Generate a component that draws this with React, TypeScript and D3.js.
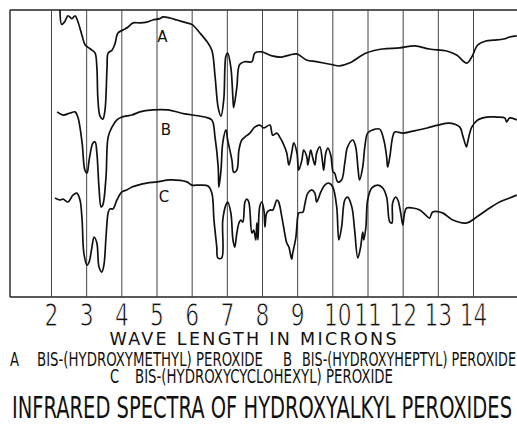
import React from 'react';
import * as d3 from 'd3';

// wavelength (microns) vs. trace height (0 = chart bottom, 100 = chart top)
const spectrumA: [number, number][] = [
  [2.24, 100], [2.29, 95], [2.38, 96], [2.47, 98], [2.58, 97], [2.67, 98], [2.75, 96],
  [2.87, 91], [2.95, 88], [3.04, 87], [3.15, 86], [3.24, 85], [3.29, 80], [3.32, 69],
  [3.38, 63], [3.46, 62], [3.52, 65], [3.58, 80], [3.61, 85], [3.72, 86], [3.8, 88],
  [3.89, 92], [4.03, 93], [4.17, 94], [4.32, 95.5], [4.51, 95.5], [4.71, 95.8], [4.88, 96.5],
  [5.08, 97], [5.17, 97.6], [5.37, 97.2], [5.57, 96.5], [5.85, 95.5], [5.99, 95], [6.22, 92],
  [6.42, 89], [6.56, 86], [6.65, 77], [6.74, 66], [6.82, 63], [6.9, 69], [6.96, 84],
  [7.01, 85], [7.1, 80], [7.16, 69], [7.18, 66], [7.27, 73], [7.35, 81], [7.5, 82],
  [7.7, 82], [7.78, 85], [7.98, 85.4], [8.27, 84], [8.54, 83.6], [8.77, 84.3], [8.97, 84.7],
  [9.25, 82.6], [9.53, 82], [9.96, 81], [10.19, 80.5], [10.47, 81.5], [10.95, 85], [11.41, 86.4],
  [11.9, 86.8], [12.33, 87.5], [12.75, 86.4], [13.24, 85.7], [13.52, 84.3], [13.81, 81.5],
  [13.95, 83.6], [14.12, 87.8], [14.35, 89.2], [14.57, 89.5], [14.86, 89.9], [15.03, 90.6], [15.23, 91],
];

const spectrumB: [number, number][] = [
  [2.16, 64.5], [2.33, 63.4], [2.53, 64.1], [2.67, 64.5], [2.75, 62.7], [2.87, 53.7], [2.95, 44.2],
  [3.01, 43.2], [3.07, 47.7], [3.18, 53.7], [3.24, 54], [3.29, 50.2], [3.35, 38.3], [3.41, 31.4],
  [3.46, 32.1], [3.55, 41.8], [3.61, 55.7], [3.72, 59.2], [3.86, 61.7], [4.0, 62.7], [4.14, 63.1],
  [4.29, 63.4], [4.51, 64.5], [4.88, 65.2], [5.3, 65.2], [5.79, 63.8], [6.36, 62.7], [6.56, 61.7],
  [6.65, 55.7], [6.74, 45.3], [6.76, 38.3], [6.82, 44.2], [6.87, 53.7], [6.96, 58.2], [7.01, 54.7],
  [7.13, 47.7], [7.18, 43.5], [7.27, 44.2], [7.33, 51.2], [7.41, 54.7], [7.5, 55.7], [7.64, 57.1],
  [7.78, 59.2], [7.92, 59.9], [8.04, 58.9], [8.21, 59.9], [8.29, 56.4], [8.41, 57.1], [8.49, 55.7],
  [8.58, 53.7], [8.69, 50.2], [8.75, 46], [8.83, 50.2], [8.89, 53.7], [8.98, 50.2], [9.03, 44.2],
  [9.12, 47.7], [9.17, 51.2], [9.26, 48.8], [9.29, 46], [9.37, 51.2], [9.43, 48.4], [9.49, 46],
  [9.54, 50.2], [9.63, 52.3], [9.71, 46.7], [9.74, 44.2], [9.8, 50.2], [9.86, 51.9], [9.94, 49.5],
  [10.01, 43.5], [10.05, 43.2], [10.14, 40.1], [10.25, 40.8], [10.34, 46.7], [10.42, 52.3],
  [10.57, 54.7], [10.65, 52.3], [10.72, 44.2], [10.76, 40.8], [10.85, 45.3], [10.91, 52.3],
  [10.99, 57.1], [11.13, 58.2], [11.33, 58.5], [11.45, 54.7], [11.53, 48.8], [11.56, 45.3],
  [11.62, 48.8], [11.7, 55.7], [11.76, 57.5], [11.99, 57.1], [12.28, 57.8], [12.68, 58.9],
  [12.99, 59.9], [13.32, 60.6], [13.61, 59.2], [13.69, 56.4], [13.8, 52.3], [13.83, 53.7],
  [13.95, 59.2], [14.12, 61.7], [14.38, 62.7], [14.66, 62.7], [14.89, 62.4], [14.94, 61],
  [15.03, 62.4], [15.23, 61.7],
];

const spectrumC: [number, number][] = [
  [2.1, 34.5], [2.24, 33.8], [2.33, 34.1], [2.47, 33.1], [2.61, 35.5], [2.72, 36.2], [2.81, 33.8],
  [2.87, 26.8], [2.92, 15.3], [3.01, 11.1], [3.07, 12.2], [3.15, 17.4], [3.21, 20.9], [3.29, 18.8],
  [3.35, 10.5], [3.43, 8.7], [3.49, 11.1], [3.55, 20.9], [3.61, 29.3], [3.66, 30.7], [3.75, 30.7],
  [3.86, 33.8], [4.0, 36.6], [4.14, 37.3], [4.29, 38.3], [4.46, 39], [4.71, 39.7], [5.0, 40.1],
  [5.37, 40.8], [5.85, 40.1], [5.99, 39], [6.22, 39], [6.45, 38.7], [6.56, 36.2], [6.62, 26.8],
  [6.7, 17.4], [6.73, 13.6], [6.84, 13.6], [6.87, 26.8], [6.96, 32.1], [7.01, 33.1], [7.1, 29.3],
  [7.16, 19.9], [7.21, 17.4], [7.27, 22.3], [7.33, 25.8], [7.38, 26.8], [7.44, 26.1], [7.5, 33.1],
  [7.55, 34.1], [7.61, 33.1], [7.7, 22.3], [7.75, 23.3], [7.81, 19.9], [7.84, 25.8], [7.87, 19.9],
  [7.92, 31.4], [7.98, 33.1], [8.04, 30.3], [8.07, 24.4], [8.12, 29.3], [8.21, 30.3], [8.29, 30.3],
  [8.41, 33.8], [8.46, 33.1], [8.55, 27.9], [8.63, 22.3], [8.69, 18.8], [8.75, 17.4], [8.83, 13.2],
  [8.86, 15.3], [8.95, 20.9], [9.0, 27.9], [9.03, 29.3], [9.15, 29.6], [9.2, 32.1], [9.29, 36.2],
  [9.4, 37.3], [9.49, 36.2], [9.54, 33.1], [9.66, 36.6], [9.77, 39], [9.89, 39.7], [10.0, 38.3],
  [10.11, 31.4], [10.17, 19.9], [10.25, 24.4], [10.34, 33.8], [10.42, 34.8], [10.54, 31.4],
  [10.62, 23.3], [10.71, 13.6], [10.79, 17.4], [10.85, 22.6], [10.88, 19.9], [10.94, 24.4],
  [10.99, 33.8], [11.11, 38], [11.28, 39], [11.42, 38], [11.53, 34.8], [11.62, 26.1], [11.68, 25.8],
  [11.7, 32.8], [11.79, 34.8], [11.85, 33.8], [11.93, 29.3], [11.99, 25.1], [12.04, 29.3],
  [12.1, 31], [12.27, 31], [12.47, 30.3], [12.67, 28.2], [12.75, 27.5], [12.84, 29.6], [13.12, 29.3],
  [13.41, 26.8], [13.81, 25.8], [14.09, 27.9], [14.46, 31], [14.74, 33.1], [15.03, 34.5], [15.23, 35.5],
];

const wavelengths = [2, 3, 4, 5, 6, 7, 8, 9, 10, 11, 12, 13, 14];

// curve letter: position on the chart (micron, height)
const curveLabels: { text: string; at: [number, number] }[] = [
  { text: 'A', at: [5.15, 89] },
  { text: 'B', at: [5.25, 56.5] },
  { text: 'C', at: [5.2, 33] },
];

const xTitle = 'WAVE LENGTH IN MICRONS';
const legendA = ['A', 'BIS-(HYDROXYMETHYL) PEROXIDE'];
const legendB = ['B', 'BIS-(HYDROXYHEPTYL) PEROXIDE'];
const legendC = ['C', 'BIS-(HYDROXYCYCLOHEXYL) PEROXIDE'];
const chartTitle = 'INFRARED SPECTRA OF HYDROXYALKYL PEROXIDES';

const W = 517;
const H = 425;
const left = 10;
const top = 10;
const bottom = 297;

const font = "'DejaVu Sans', sans-serif";
// thin the big digits a little, the original is pen lettering
const thin = { stroke: '#fff', strokeWidth: 0.6, paintOrder: 'fill' } as const;

// narrow lettering: small font stretched upward
function Tall({
  x,
  y,
  size,
  k,
  width,
  anchor = 'start',
  thinned = false,
  children,
}: {
  x: number;
  y: number;
  size: number;
  k: number;
  width?: number;
  anchor?: 'start' | 'middle';
  thinned?: boolean;
  children: React.ReactNode;
}) {
  return (
    <text
      transform={`translate(${x},${y}) scale(1,${k})`}
      fontFamily={font}
      fontSize={size}
      textAnchor={anchor}
      fill="#111"
      textLength={width}
      lengthAdjust={width ? 'spacingAndGlyphs' : undefined}
      style={thinned ? thin : undefined}
    >
      {children}
    </text>
  );
}

export default function App() {
  const x = d3.scaleLinear().domain([2, 14]).range([51.5, 473.5]);
  const y = d3.scaleLinear().domain([0, 100]).range([bottom, top]);

  const line = d3
    .line<[number, number]>()
    .x(d => x(d[0]))
    .y(d => y(d[1]))
    .curve(d3.curveCatmullRom.alpha(0.5));

  return (
    <svg
      width={W}
      height={H}
      style={{ position: 'absolute', left: 0, top: 0, background: '#fff' }}
    >
      {/* frame: no right edge, the scan is cut there */}
      <g stroke="#222" strokeWidth={1.4} fill="none">
        <line x1={left} x2={W} y1={top} y2={top} />
        <line x1={left} x2={W} y1={bottom} y2={bottom} />
        <line x1={left} x2={left} y1={top} y2={bottom} />
      </g>
      <g stroke="#444" strokeWidth={1}>
        {wavelengths.map(w => (
          <line key={w} x1={x(w)} x2={x(w)} y1={top} y2={bottom} />
        ))}
      </g>

      <g fill="none" stroke="#111" strokeWidth={1.7} strokeLinejoin="round">
        <path d={line(spectrumA) ?? ''} />
        <path d={line(spectrumB) ?? ''} />
        <path d={line(spectrumC) ?? ''} />
      </g>

      <g fontFamily={font} fontSize={15} textAnchor="middle" fill="#111">
        {curveLabels.map(l => (
          <text key={l.text} x={x(l.at[0])} y={y(l.at[1])}>
            {l.text}
          </text>
        ))}
      </g>

      {wavelengths.map(w => (
        <Tall key={w} x={x(w) + (w === 10 ? 5 : 0)} y={326} size={21.8} k={1.45} anchor="middle" thinned>
          {w}
        </Tall>
      ))}

      <text
        x={253}
        y={345}
        fontFamily={font}
        fontSize={17.5}
        textAnchor="middle"
        textLength={287}
        lengthAdjust="spacing"
        fill="#111"
      >
        {xTitle}
      </text>

      <Tall x={10} y={366} size={13.2} k={1.42}>{legendA[0]}</Tall>
      <Tall x={37} y={366} size={13.2} k={1.42} width={226}>{legendA[1]}</Tall>
      <Tall x={283} y={366} size={13.2} k={1.42}>{legendB[0]}</Tall>
      <Tall x={302} y={366} size={12.6} k={1.49} width={214}>{legendB[1]}</Tall>
      <Tall x={110} y={383} size={13.1} k={1.42}>{legendC[0]}</Tall>
      <Tall x={135} y={383} size={13.1} k={1.42} width={258}>{legendC[1]}</Tall>

      <Tall x={12} y={418} size={19.2} k={1.6} width={500}>
        {chartTitle}
      </Tall>
    </svg>
  );
}
